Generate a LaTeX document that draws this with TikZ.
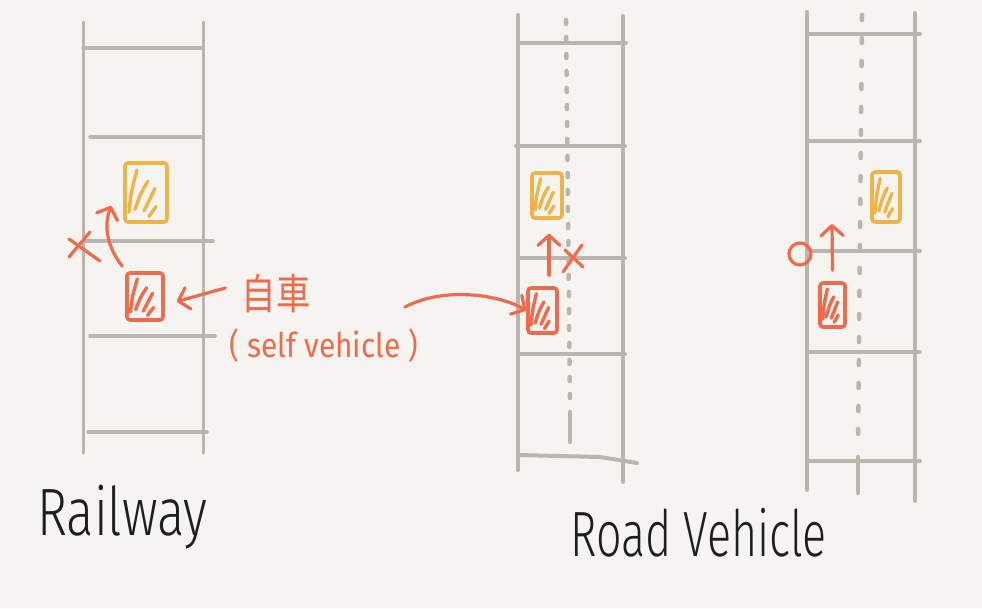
\documentclass[tikz,border=0pt]{standalone}
\usepackage{fontspec}
\setmainfont{Liberation Sans}
\newfontfamily\hand{Fira Sans Light}
\newfontfamily\handr{Fira Sans}
\newfontfamily\cjk{Noto Sans CJK JP}
\usetikzlibrary{arrows.meta,calc}
\definecolor{bg}{HTML}{F5F4F0}
\definecolor{lane}{HTML}{BAB6AE}
\definecolor{ego}{HTML}{F26A4C}
\definecolor{other}{HTML}{EFB447}
\definecolor{ink}{HTML}{1E1E1E}
\newcommand{\hatchin}[4]{%
  \begin{scope}[shift={(#1.center)},x=#2pt,y=#3pt]
    \draw[hatch,#4] (-0.85,-0.7) .. controls (-0.75,0) .. (-0.45,0.8);
    \draw[hatch,#4] (-0.55,-0.6) .. controls (-0.25,0) .. (0.1,0.4);
    \draw[hatch,#4] (-0.1,-0.66) -- (0.45,0.15);
    \draw[hatch,#4] (0.15,-0.86) -- (0.5,-0.5);
  \end{scope}}
\begin{document}
\begin{tikzpicture}[x=1pt,y=-1pt,
  rail/.style={draw=lane,line width=3pt,line cap=round},
  road/.style={draw=lane,line width=4pt,line cap=round},
  centre/.style={draw=lane,line width=4.5pt,line cap=round,dash pattern=on 4pt off 13pt},
  car/.style={draw=#1,line width=3.6pt,rounded corners=3pt,inner sep=0pt},
  hatch/.style={line width=3.4pt,line cap=round},
  tip/.style={-{Straight Barb[length=10pt,width=22pt,round]}},
  redline/.style={draw=ego,line width=3.2pt,line cap=round},
  ]
\fill[bg] (0,0) rectangle (982,608);
\useasboundingbox (0,0) rectangle (982,608);

% ---------- Railway ----------
\draw[rail] (83,22) -- (83,453);
\draw[rail] (203,22) -- (203,453);
\foreach \y/\a/\b in {48/83/203,137/90/201,241/85/213,336/90/215,432/88/207}
  \draw[rail,line width=3.5pt] (\a,\y) -- (\b,\y);

\node[car=other,minimum width=42pt,minimum height=59pt] (ry) at (146,192.5) {};
\hatchin{ry}{20}{28}{other}
\node[car=ego,minimum width=36pt,minimum height=47pt] (rr) at (145,296.5) {};
\hatchin{rr}{17}{22}{ego}

\draw[redline,tip] ($(rr.north west)+(-3,-5)$) .. controls (106,245) and (104,225) .. ($(ry.south west)+(-12,-18)$);
\draw[redline] (69,239) -- (100,261);
\draw[redline] (90,232) -- (69,257);

% ---------- Road (middle) ----------
\draw[road] (518,15) -- (518,470);
\draw[road] (623,16) -- (623,482);
\foreach \y/\a/\b in {43/518/626,146/516/625,258/518/625,354/518/625}
  \draw[road] (\a,\y) -- (\b,\y);
\draw[road] (518,455) -- (600,457) -- (637,463);
\draw[centre] (566,20) -- (570,405);
\draw[road,line width=4.5pt] (570,412) -- (570,442);

\node[car=other,minimum width=30pt,minimum height=45pt] (my) at (547,195.5) {};
\hatchin{my}{14}{21}{other}
\node[car=ego,minimum width=29pt,minimum height=45pt] (mr) at (542.5,310.5) {};
\hatchin{mr}{13.5}{21}{ego}

\draw[redline,tip] ($(mr.north)+(6.5,-11)$) -- ($(my.south)+(2,14)$);
\draw[redline] (565,250) -- (583,267);
\draw[redline] (582,245) -- (563,272);

% ---------- Road (right) ----------
\draw[road] (807,12) -- (807,490);
\draw[road] (915,13) -- (915,501);
\foreach \y in {34,141,251,352,461}
  \draw[road] (807,\y) -- (920,\y);
\draw[centre,dash pattern=on 5pt off 18pt] (862,15) -- (858,450);
\draw[road,line width=4.5pt] (858,457) -- (858,493);

\node[car=other,minimum width=28pt,minimum height=50pt] (qy) at (886,197) {};
\hatchin{qy}{13}{23}{other}
\node[car=ego,minimum width=25pt,minimum height=44pt] (qr) at (832.5,305) {};
\hatchin{qr}{11.5}{20}{ego}

\coordinate (qt) at (832,224);
\draw[redline,tip] ($(qr.north)+(0,-11)$) -- (qt);
\node[circle,draw=ego,line width=3.2pt,minimum size=22pt,inner sep=0pt] (ok) at (800,254) {};

% ---------- Labels ----------
\node[font=\cjk\fontsize{42}{42}\selectfont,text=ego,inner sep=0pt] (jp) at (276,294) {\scalebox{0.82}[1]{自車}};
\node[font=\handr\fontsize{34}{34}\selectfont,text=ego,inner sep=0pt] (en) at (324,346) {\scalebox{0.88}[1]{( self vehicle )}};

\draw[redline,tip] ($(jp.west)+(-16,-6)$) -- ($(rr.east)+(12,5)$);
\coordinate (cs) at (405,307);
\draw[redline,tip] (cs) .. controls (445,286) and (500,295) .. (mr.west);

\node[font=\hand\fontsize{67}{67}\selectfont,text=ink,anchor=base west,inner sep=0pt] (lr) at (37,535) {\scalebox{0.76}[1]{Railway}};
\node[font=\hand\fontsize{64}{64}\selectfont,text=ink,anchor=base west,inner sep=0pt] (lv) at (570,556) {\scalebox{0.7}[1]{Road Vehicle}};
\end{tikzpicture}
\end{document}
